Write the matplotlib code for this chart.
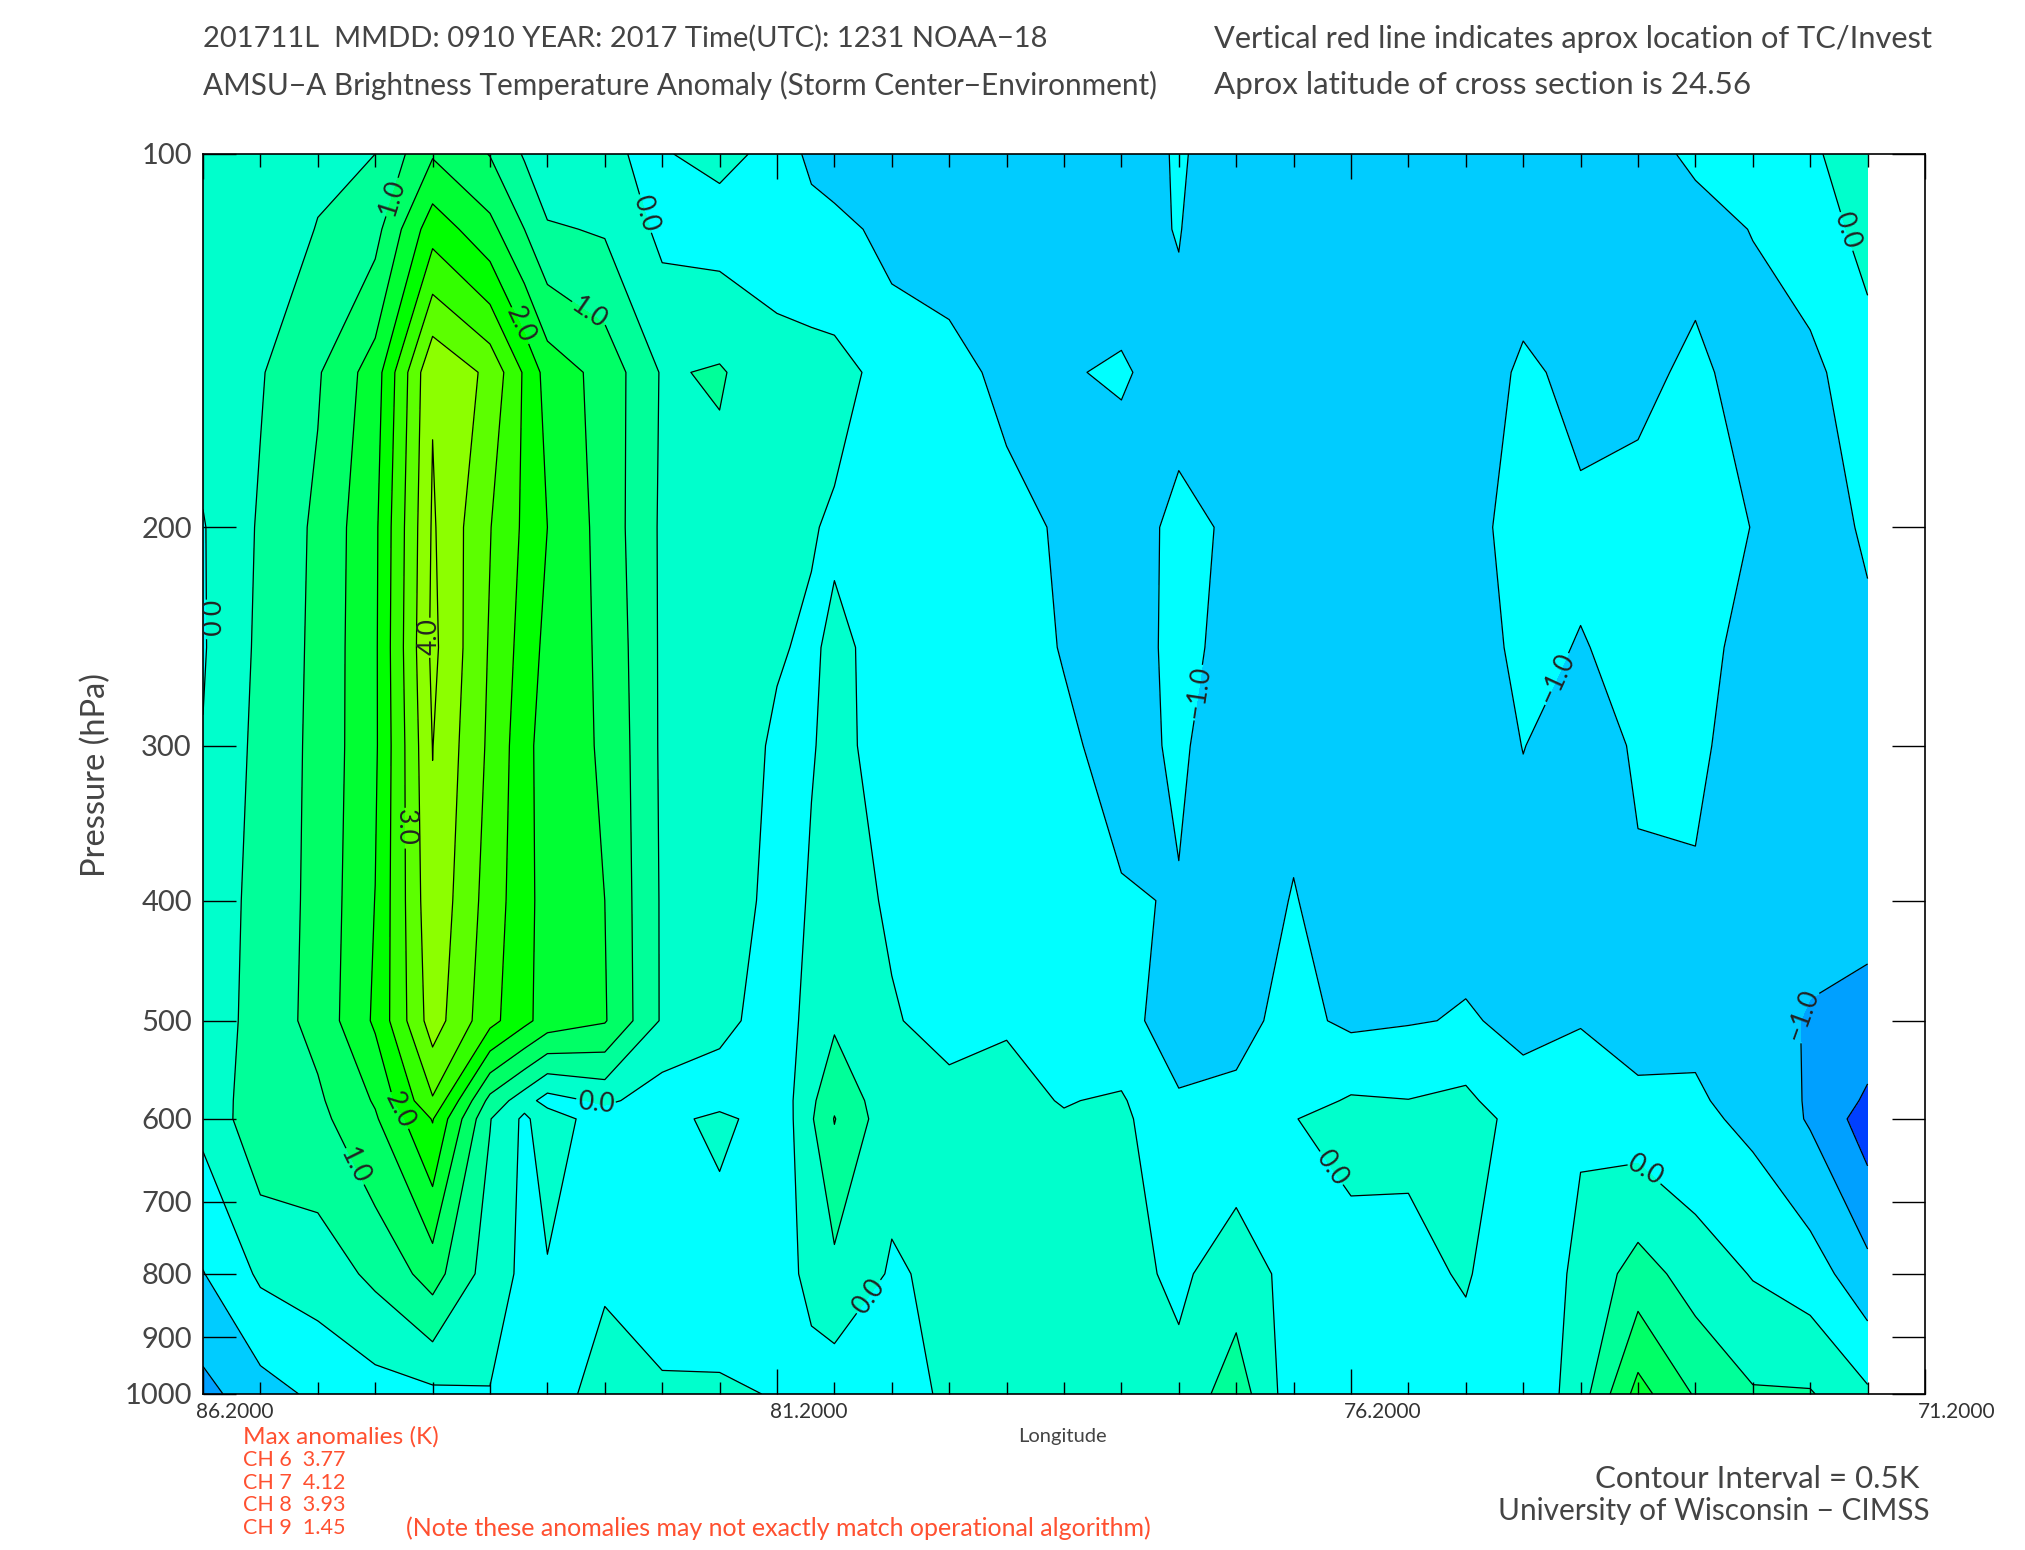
import matplotlib
matplotlib.use('Agg')
import matplotlib.pyplot as plt
import numpy as np
from matplotlib.ticker import NullLocator
from matplotlib.transforms import ScaledTranslation

plt.rcParams['font.family'] = ['Lato', 'DejaVu Sans']

# pressure levels of the cross section
pres = [100, 115, 150, 200, 250, 300, 400, 500, 580, 600, 800, 1000]
# longitudes, 0.5 deg apart (extra ones at 83.4 and 80.9)
lons = [86.2, 85.7, 85.2, 84.7, 84.2, 83.7, 83.4, 83.2, 82.7, 82.2, 81.7, 81.2, 80.9, 80.7, 80.2, 79.7,
        79.2, 78.7, 78.2, 77.7, 77.2, 76.7, 76.2, 75.7, 75.2, 74.7, 74.2, 73.7, 73.2, 72.7, 72.2, 71.7]

# anomaly (K) down each longitude, top to bottom
c00 = [.3, .28, .2, -.03, -.04, .02, .1, .15, .12, .12, -.52, -1.16]
c01 = [.3, .35, .46, .56, .6, .64, .7, .72, .84, .85, .08, -.7]
c02 = [.45, .51, .95, 1.1, 1.12, 1.13, 1.13, 1.15, .92, .86, .23, -.4]
c03 = [.5, .83, 1.74, 1.9, 1.92, 1.92, 2.01, 2.08, 1.55, 1.44, .61, -.22]
c04 = [1.45, 2.3, 3.96, 4.06, 4.12, 4.01, 3.89, 3.75, 2.95, 2.53, 1.21, -.11]
c05 = [.98, 1.65, 3.38, 3.02, 2.95, 2.9, 2.78, 2.66, .84, .52, .25, -.02]
c05b = [.45, 1.0, 2.43, 2.41, 2.3, 2.19, 2.18, 2.13, .22, -.1, -.11, -.12]
c06 = [.1, .56, 1.8, 2.0, 1.85, 1.72, 1.78, 1.78, -.2, .3, -.05, -.2]
c07 = [.02, .45, 1.32, 1.32, 1.4, 1.45, 1.5, 1.54, .1, -.3, -.06, .18]
c08 = [-.03, -.12, .45, .42, .42, .42, .44, .44, -.26, -.25, -.11, .03]
c09 = [.12, -.2, .55, .32, .2, .2, .18, .15, -.3, .2, -.45, .11]
c10 = [-.12, -.2, .16, .14, .03, -.05, -.1, -.25, -.35, -.4, -.22, -.04]
c10b = [-.65, -.26, .136, .026, -.05, -.01, .02, .15, .4, .45, .13, -.19]
c11 = [-.85, -.3, .12, -.05, .07, .04, .1, .42, .9, 1.02, .36, -.29]
c12 = [-.95, -.7, -.13, -.3, -.12, -.06, -.03, .02, .14, .15, -.05, -.25]
c13 = [-.9, -.8, -.3, -.35, -.28, -.22, -.15, -.08, .07, .1, .1, .1]
c14 = [-.85, -.8, -.65, -.31, -.35, -.28, -.2, -.03, .1, .12, .16, .2]
c15 = [-.9, -.85, -.52, -.58, -.52, -.44, -.3, -.15, -.02, .03, .14, .25]
c16 = [-.9, -.645, -.47, -.66, -.68, -.62, -.47, -.33, .05, .08, .14, .2]
c17 = [-.42, -.48, -.62, -.42, -.4, -.45, -.52, -.75, -.45, -.3, -.085, .13]
c18 = [-.9, -.88, -.8, -.55, -.62, -.7, -.8, -.62, -.42, -.29, .25, .79]
c19 = [-.95, -.95, -.9, -.85, -.8, -.65, -.47, -.37, -.2, -.01, -.155, -.3]
c20 = [-.9, -.9, -.85, -.85, -.85, -.85, -.8, -.59, .05, .12, -.14, -.4]
c21 = [-.9, -.9, -.85, -.8, -.8, -.85, -.8, -.53, .01, .1, -.125, -.35]
c22 = [-.9, -.9, -.8, -.72, -.7, -.8, -.62, -.47, .12, .3, .045, -.21]
c23 = [-.85, -.75, -.42, -.25, -.4, -.49, -.7, -.57, -.4, -.25, -.35, -.45]
c24 = [-.9, -.8, -.62, -.42, -.52, -.7, -.8, -.53, -.2, -.05, .11, .27]
c25 = [-.6, -.7, -.58, -.38, -.4, -.45, -.55, -.7, -.4, -.25, .72, 1.69]
c26 = [-.45, -.6, -.435, -.32, -.35, -.42, -.55, -.62, -.43, -.39, .28, .95]
c27 = [-.25, -.49, -.63, -.51, -.65, -.7, -.72, -.85, -.7, -.61, -.03, .55]
c28 = [-.1, -.25, -.62, -.78, -.9, -.95, -.88, -1.03, -1.05, -1.05, -.255, .54]
c29 = [.35, .15, -.2, -.42, -.62, -.7, -.78, -1.22, -1.58, -1.75, -.835, .08]

levels = [-2, -1.5, -1, -.5, 0, .5, 1, 1.5, 2, 2.5, 3, 3.5, 4, 4.5]
fills = ['#0040FF', '#00A0FF', '#00CCFF', '#00FFFF', '#00FFCC', '#00FF99', '#00FF66',
         '#00FF33', '#00FF00', '#33FF00', '#5CFF00', '#8CFF00', '#8CFF00']
level_names = {-2: '-2.0', -1.5: '-1.5', -1: '\u22121.0', -.5: '\u22121.0', 0: '0.0', .5: '0.5', 1: '1.0', 1.5: '1.5',
               2: '2.0', 2.5: '2.5', 3: '3.0', 3.5: '3.5', 4: '4.0', 4.5: '4.5'}

# contour label spots (lon, pressure)
label_spots = [(82.4, 112), (84.59, 108), (82.83, 134), (83.41, 137), (84.2, 245), (84.43, 349),
               (84.46, 588), (84.85, 653), (82.77, 580), (86.18, 237), (80.45, 828), (76.36, 656),
               (73.62, 657), (71.85, 115), (77.6, 271), (74.4, 265), (72.27, 494)]

x_ticks = [86.2, 81.2, 76.2, 71.2]
y_ticks = [100, 200, 300, 400, 500, 600, 700, 800, 900, 1000]

anom = np.column_stack([c00, c01, c02, c03, c04, c05, c05b, c06, c07, c08, c09, c10, c10b, c11, c12, c13, c14,
                        c15, c16, c17, c18, c19, c20, c21, c22, c23, c24, c25, c26, c27, c28, c29])

fig = plt.figure(figsize=(20.25, 15.5), dpi=100)
ax = fig.add_axes([203 / 2025, 1 - 1394 / 1550, (1925 - 203) / 2025, (1394 - 154) / 1550])

ax.contourf(lons, pres, anom, levels=levels, colors=fills)
cs = ax.contour(lons, pres, anom, levels=levels, colors='k', linewidths=0.9, linestyles='solid')

ax.set_yscale('log')
ax.set_xlim(86.2, 71.2)
ax.set_ylim(1000, 100)

ax.clabel(cs, manual=label_spots, fmt=level_names, fontsize=19, colors='#222222', inline=True, inline_spacing=2)

# ticks
ax.set_xticks(x_ticks)
ax.set_xticklabels(['%.4f' % v for v in x_ticks])
ax.set_xticks(np.arange(86.2, 71.1, -0.5), minor=True)
ax.set_yticks(y_ticks)
ax.set_yticklabels([str(v) for v in y_ticks])
ax.yaxis.set_minor_locator(NullLocator())
ax.tick_params(axis='x', which='major', direction='in', top=True, length=18, width=1, pad=6, labelsize=15,
               labelcolor='#333333')
ax.tick_params(axis='x', which='minor', direction='in', top=True, length=9, width=1)
ax.tick_params(axis='y', which='major', direction='in', right=True, length=24, width=1, pad=8, labelsize=21,
               labelcolor='#444444')
for lab in ax.get_xticklabels():
    lab.set_ha('left')
    lab.set_transform(lab.get_transform() + ScaledTranslation(-0.07, 0, fig.dpi_scale_trans))
for s in ax.spines.values():
    s.set_linewidth(1.2)


def put(x, y, s, size=20.5, color='#444444', **kw):
    fig.text(x / 1568, 1 - y / 1200, s, fontsize=size, color=color, va='center', **kw)


put(157, 30, '201711L  MMDD: 0910 YEAR: 2017 Time(UTC): 1231 NOAA\u221218', size=21)
put(157, 66, 'AMSU\u2212A Brightness Temperature Anomaly (Storm Center\u2212Environment)', size=21.4)
put(940, 30, 'Vertical red line indicates aprox location of TC/Invest', size=22.15)
put(940, 66, 'Aprox latitude of cross section is 24.56', size=22.6)
put(74, 600, 'Pressure (hPa)', size=23.5, rotation=90, ha='center')
put(823, 1112, 'Longitude', size=14.5, ha='center', )
put(1486, 1145, 'Contour Interval = 0.5K', size=22.5, ha='right')
put(1494, 1170, 'University of Wisconsin \u2212 CIMSS', size=21.4, ha='right')

red = '#FF5030'
put(188, 1112, 'Max anomalies (K)', size=17.6, color=red)
put(188, 1130, 'CH 6  3.77', size=15.5, color=red)
put(188, 1148, 'CH 7  4.12', size=15.5, color=red)
put(188, 1165, 'CH 8  3.93', size=15.5, color=red)
put(188, 1183, 'CH 9  1.45', size=15.5, color=red)
put(314, 1183, '(Note these anomalies may not exactly match operational algorithm)', size=18, color=red)

fig.savefig('out.png', dpi=100)
